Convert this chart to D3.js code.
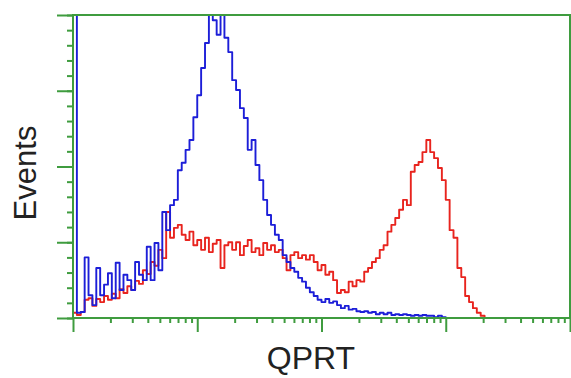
<!DOCTYPE html>
<html>
<head>
<meta charset="utf-8">
<script src="https://cdn.jsdelivr.net/npm/d3@7"></script>
<style>
  html, body { margin: 0; padding: 0; background: #fff; }
  svg { display: block; }
</style>
</head>
<body>
<div id="chart"></div>
<script>
// histogram channels: 128 log bins over 4 decades (10^0 .. 10^4)
const binCount = 128;
const xDecades = [1, 10, 100, 1000, 10000];
const yMajorTicks = [0, 100, 200, 300, 400];

// counts per bin (bins past the end are empty)
const blueCounts = [
  450, 7, 8, 80, 30, 17, 66, 30, 44, 59,
  26, 73, 37, 57, 50, 37, 74, 57, 50, 94,
  50, 99, 63, 140, 116, 149, 156, 195, 205, 222,
  235, 265, 294, 330, 363, 410, 393, 374, 410, 370,
  351, 314, 301, 277, 264, 222, 235, 202, 182, 156,
  136, 123, 110, 103, 83, 74, 66, 61, 53, 48,
  40, 34, 29, 24, 21, 25, 20, 22, 17, 13,
  16, 11, 12, 9, 8, 9, 7, 8, 5, 7,
  5, 7, 4, 5, 4, 5, 4, 3, 4, 3,
  4, 3, 3, 1, 3, 1
];
const redCounts = [
  7, 4, 8, 24, 26, 16, 25, 21, 29, 24,
  32, 26, 38, 33, 42, 37, 49, 45, 63, 58,
  74, 69, 90, 79, 140, 106, 119, 123, 110, 103,
  114, 96, 103, 90, 106, 87, 98, 103, 66, 96,
  100, 90, 100, 83, 95, 103, 87, 92, 83, 99,
  90, 96, 87, 90, 79, 63, 83, 87, 79, 83,
  77, 83, 74, 63, 70, 57, 61, 50, 33, 37,
  34, 48, 42, 50, 48, 61, 66, 74, 79, 90,
  96, 114, 123, 132, 143, 156, 149, 193, 202, 206,
  219, 235, 219, 211, 198, 182, 156, 116, 106, 66,
  54, 29, 21, 13, 7, 3
];

const width = 571, height = 378;
const plotLeft = 73, plotRight = 570, plotTop = 15, plotBottom = 318;
const green = "#3f9c3f";

const svg = d3.select("#chart").append("svg")
  .attr("width", width)
  .attr("height", height)
  .attr("font-family", "'Liberation Sans', Arial, sans-serif");

const x = d3.scaleLog().domain([1, 10000]).range([plotLeft, plotRight]);
const y = d3.scaleLinear().domain([0, 400]).range([plotBottom, plotTop]);

const edge = i => Math.pow(10, i * 4 / binCount);

svg.append("defs").append("clipPath").attr("id", "plot")
  .append("rect")
  .attr("x", plotLeft).attr("y", plotTop)
  .attr("width", plotRight - plotLeft).attr("height", plotBottom - plotTop);

// step outline of a histogram, starting and ending on the baseline
function stepPoints(counts) {
  const pts = [[edge(0), 0]];
  counts.forEach((c, i) => {
    pts.push([edge(i), c]);
    pts.push([edge(i + 1), c]);
  });
  pts.push([edge(counts.length), 0]);
  return pts;
}

const line = d3.line()
  .x(d => x(d[0]))
  .y(d => y(d[1]));

const plot = svg.append("g").attr("clip-path", "url(#plot)");

plot.append("path")
  .attr("d", line(stepPoints(redCounts)))
  .attr("fill", "none")
  .attr("stroke", "#e8241e")
  .attr("stroke-width", 1.9)
  .attr("stroke-linejoin", "round");

plot.append("path")
  .attr("d", line(stepPoints(blueCounts)))
  .attr("fill", "none")
  .attr("stroke", "#1c1ed8")
  .attr("stroke-width", 1.9)
  .attr("stroke-linejoin", "round");

// frame
svg.append("rect")
  .attr("x", plotLeft).attr("y", plotTop)
  .attr("width", plotRight - plotLeft).attr("height", plotBottom - plotTop)
  .attr("fill", "none")
  .attr("stroke", green)
  .attr("stroke-width", 2);

// y axis: majors every 100, minors every 20
const yAxisMajor = d3.axisLeft(y).tickValues(yMajorTicks).tickSize(16).tickFormat("");
const yAxisMinor = d3.axisLeft(y).tickValues(d3.range(0, 401, 20)).tickSize(6).tickFormat("");

svg.append("g").attr("transform", `translate(${plotLeft},0)`).call(yAxisMinor);
svg.append("g").attr("transform", `translate(${plotLeft},0)`).call(yAxisMajor);

// x axis: log decades with 2..9 minors
const minors = [];
xDecades.slice(0, -1).forEach(d => {
  for (let k = 2; k <= 9; k++) minors.push(d * k);
});
const xAxisMajor = d3.axisBottom(x).tickValues(xDecades).tickSize(14).tickFormat("");
const xAxisMinor = d3.axisBottom(x).tickValues(minors).tickSize(5).tickFormat("");

svg.append("g").attr("transform", `translate(0,${plotBottom})`).call(xAxisMinor);
svg.append("g").attr("transform", `translate(0,${plotBottom})`).call(xAxisMajor);

svg.selectAll(".domain").remove();
svg.selectAll(".tick line")
  .attr("stroke", green)
  .attr("stroke-width", 2);

// axis titles
svg.append("text")
  .attr("transform", "translate(36,173) rotate(-90)")
  .attr("text-anchor", "middle")
  .attr("font-size", 31)
  .attr("fill", "#222")
  .text("Events");

svg.append("text")
  .attr("x", 311)
  .attr("y", 369)
  .attr("text-anchor", "middle")
  .attr("font-size", 32)
  .attr("fill", "#222")
  .text("QPRT");
</script>
</body>
</html>
